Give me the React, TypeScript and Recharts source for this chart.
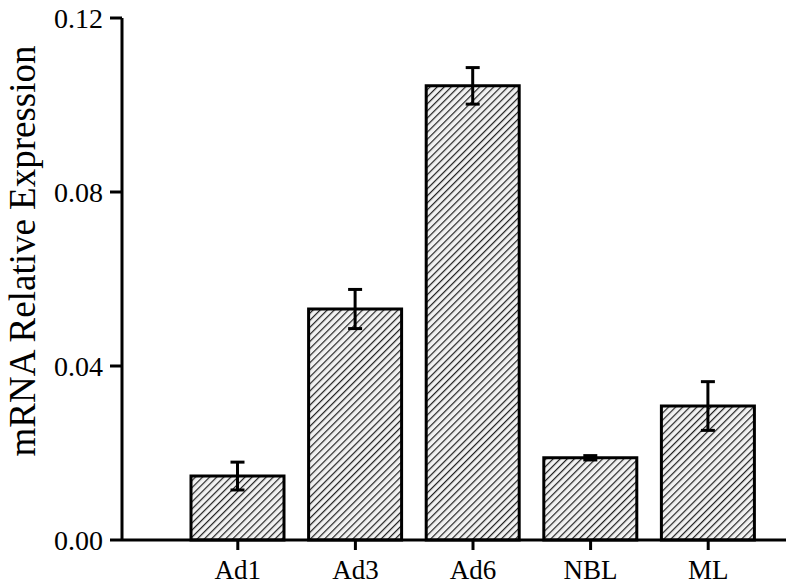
import React from "react";
import { BarChart, Bar, XAxis, YAxis, ErrorBar } from "recharts";

const categories = ["Ad1", "Ad3", "Ad6", "NBL", "ML"];
const expression = [0.0147, 0.0531, 0.1044, 0.0189, 0.0308];
const errors = [0.0032, 0.0045, 0.0042, 0.0005, 0.0056];
const yTicks = [0, 0.04, 0.08, 0.12];

const data = categories.map((name, i) => ({
  name,
  value: expression[i],
  err: errors[i],
}));

const FONT = "'Liberation Serif', 'Times New Roman', serif";

const XTick = (props: any) => {
  const { x, y, payload } = props;
  return (
    <text x={x} y={y + 27} textAnchor="middle" fill="#000" fontSize={27} fontFamily={FONT}>
      {payload.value}
    </text>
  );
};

const YTick = (props: any) => {
  const { x, y, payload } = props;
  return (
    <text x={x - 5} y={y + 10} textAnchor="end" fill="#000" fontSize={28} fontFamily={FONT}>
      {Number(payload.value).toFixed(2)}
    </text>
  );
};

export default function App() {
  return (
    <div style={{ position: "absolute", left: 0, top: 0, width: 794, height: 588, background: "#fff" }}>
      <BarChart
        width={794}
        height={588}
        data={data}
        margin={{ top: 18, right: 8, bottom: 0, left: 0 }}
        barCategoryGap={0}
      >
        <defs>
          <pattern
            id="hatch"
            patternUnits="userSpaceOnUse"
            width={5}
            height={5}
            patternTransform="rotate(45)"
          >
            <rect width={5} height={5} fill="#f2f2f2" />
            <line x1={0} y1={0} x2={0} y2={5} stroke="#222" strokeWidth={2.4} />
          </pattern>
        </defs>
        <XAxis
          dataKey="name"
          height={48}
          padding={{ left: 57, right: 19 }}
          axisLine={{ stroke: "#000", strokeWidth: 3 }}
          tickLine={{ stroke: "#000", strokeWidth: 3 }}
          tickSize={10}
          tick={<XTick />}
        />
        <YAxis
          width={122}
          domain={[0, 0.12]}
          ticks={yTicks}
          axisLine={{ stroke: "#000", strokeWidth: 3 }}
          tickLine={{ stroke: "#000", strokeWidth: 3 }}
          tickSize={12}
          tick={<YTick />}
          label={{
            value: "mRNA Relative Expression",
            angle: -90,
            position: "insideLeft",
            dx: 17,
            dy: -28,
            style: { textAnchor: "middle", fill: "#000", fontSize: 37, fontFamily: FONT },
          }}
        />
        <Bar
          dataKey="value"
          barSize={93}
          fill="url(#hatch)"
          stroke="#000"
          strokeWidth={3}
          isAnimationActive={false}
        >
          <ErrorBar dataKey="err" width={7} stroke="#000" strokeWidth={3} />
        </Bar>
      </BarChart>
    </div>
  );
}
